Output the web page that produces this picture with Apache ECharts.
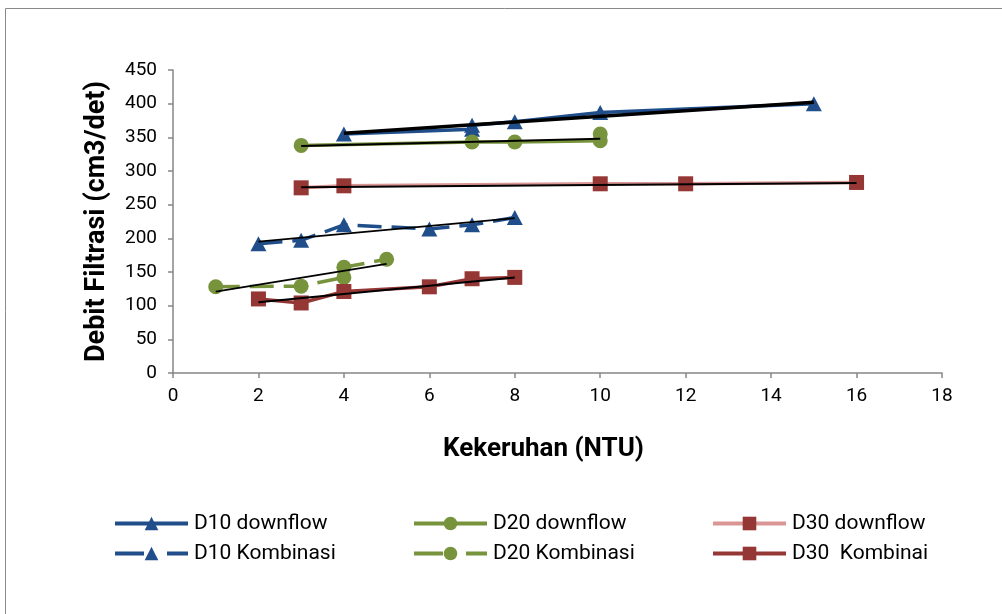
<!DOCTYPE html>
<html>
<head>
<meta charset="utf-8">
<script src="https://cdn.jsdelivr.net/npm/echarts@6/dist/echarts.min.js"></script>
<style>
html,body{margin:0;padding:0;background:#fff;}
#c{width:1002px;height:614px;}
</style>
</head>
<body>
<div id="c"></div>
<script>
// ---- data ----
const seriesNames = ['D10 downflow', 'D10 Kombinasi', 'D20 downflow', 'D20 Kombinasi', 'D30 downflow', 'D30  Kombinai'];

const d10DownX = [4, 7, 7, 8, 10, 15];
const d10DownY = [355, 362, 368, 373, 387, 400];
const d20DownX = [3, 7, 8, 10, 10];
const d20DownY = [338, 343, 343, 345, 355];
const d30DownX = [3, 4, 10, 12, 16];
const d30DownY = [275, 278, 281, 281, 283];

const d10KomX = [2, 3, 4, 6, 7, 8];
const d10KomY = [192, 197, 220, 214, 220, 231];
const d20KomX = [1, 3, 4, 4, 5];
const d20KomY = [128, 129, 142, 157, 169];
const d30KomX = [2, 3, 4, 6, 7, 8];
const d30KomY = [110, 104, 121, 128, 140, 142];

// linear trend lines (end points)
const trendD10DownX = [4, 15];
const trendD10DownY = [356, 402];
const trendD20DownX = [3, 10];
const trendD20DownY = [337, 348];
const trendD30DownX = [3, 16];
const trendD30DownY = [276, 282];
const trendD10KomX = [2, 8];
const trendD10KomY = [195, 230];
const trendD20KomX = [1, 5];
const trendD20KomY = [121, 162];
const trendD30KomX = [2, 8];
const trendD30KomY = [105, 142];

const xTicks = {min: 0, max: 18, interval: 2};
const yTicks = {min: 0, max: 450, interval: 50};

// ---- styles ----
const BLUE = '#1F4E8A', GREEN = '#77933C', RED = '#953735', PINK = '#D99694';
const FONT = 'Roboto';

function pts(xs, ys) { return xs.map((x, i) => [x, ys[i]]); }

function lineSeries(name, xs, ys, color, lineColor, symbol, size, dashed) {
  return {
    name: name, type: 'line', data: pts(xs, ys),
    symbol: symbol, symbolSize: size, showSymbol: true,
    itemStyle: {color: color},
    lineStyle: {color: lineColor, width: 3.5, type: dashed ? [24, 10] : 'solid', cap: 'butt'},
    z: 2, animation: false
  };
}
function trend(xs, ys, w) {
  return {
    type: 'line', data: pts(xs, ys), symbol: 'none', silent: true,
    lineStyle: {color: '#000', width: w}, z: 5, animation: false, legendHoverLink: false
  };
}
function legItem(name, dashed) {
  const it = {name: name};
  if (dashed) it.lineStyle = {type: [29, 23], width: 4};
  return it;
}

const chart = echarts.init(document.getElementById('c'));
chart.setOption({
  animation: false,
  backgroundColor: '#fff',
  graphic: [{
    type: 'rect', shape: {x: 5.5, y: 8.5, width: 1200, height: 800},
    style: {fill: 'none', stroke: '#8a8a8a', lineWidth: 1}, silent: true, z: -1
  }],
  grid: {left: 173, top: 70, right: 60, bottom: 241},
  xAxis: {
    type: 'value', min: xTicks.min, max: xTicks.max, interval: xTicks.interval,
    name: 'Kekeruhan (NTU)', nameLocation: 'middle', nameGap: 63,
    nameTextStyle: {fontFamily: FONT, fontWeight: 'bold', fontSize: 26, color: '#000', padding: [0, 28, 0, 0]},
    axisLine: {lineStyle: {color: '#868686', width: 1.5}},
    axisTick: {show: true, length: 5, lineStyle: {color: '#868686', width: 1.5}},
    axisLabel: {fontFamily: FONT, fontSize: 19, color: '#000', margin: 14},
    splitLine: {show: false}
  },
  yAxis: {
    type: 'value', min: yTicks.min, max: yTicks.max, interval: yTicks.interval,
    name: 'Debit Filtrasi (cm3/det)', nameLocation: 'middle', nameGap: 62,
    nameTextStyle: {fontFamily: FONT, fontWeight: 'bold', fontSize: 27, color: '#000'},
    axisLine: {show: true, lineStyle: {color: '#868686', width: 1.5}},
    axisTick: {show: true, length: 5, lineStyle: {color: '#868686', width: 1.5}},
    axisLabel: {fontFamily: FONT, fontSize: 19, color: '#000', margin: 16},
    splitLine: {show: false}
  },
  legend: [
    {data: [legItem(seriesNames[0], false), legItem(seriesNames[1], true)], left: 108},
    {data: [legItem(seriesNames[2], false), legItem(seriesNames[3], true)], left: 407},
    {data: [legItem(seriesNames[4], false), legItem(seriesNames[5], false)], left: 706}
  ].map(l => Object.assign(l, {
    top: 508, orient: 'vertical', itemWidth: 73, itemHeight: 17, itemGap: 9,
    lineStyle: {width: 4},
    textStyle: {fontFamily: FONT, fontSize: 21, color: '#000', padding: [0, 0, 0, 1]},
    selectedMode: false
  })),
  series: [
    lineSeries(seriesNames[0], d10DownX, d10DownY, BLUE, BLUE, 'triangle', [16, 15], false),
    lineSeries(seriesNames[1], d10KomX, d10KomY, BLUE, BLUE, 'triangle', [16, 15], true),
    lineSeries(seriesNames[2], d20DownX, d20DownY, GREEN, GREEN, 'circle', 15, false),
    lineSeries(seriesNames[3], d20KomX, d20KomY, GREEN, GREEN, 'circle', 15, true),
    lineSeries(seriesNames[4], d30DownX, d30DownY, RED, PINK, 'rect', 15, false),
    lineSeries(seriesNames[5], d30KomX, d30KomY, RED, RED, 'rect', 15, false),
    trend(trendD10DownX, trendD10DownY, 3.5),
    trend(trendD20DownX, trendD20DownY, 2),
    trend(trendD30DownX, trendD30DownY, 2),
    trend(trendD10KomX, trendD10KomY, 1.8),
    trend(trendD20KomX, trendD20KomY, 1.8),
    trend(trendD30KomX, trendD30KomY, 2)
  ]
});
</script>
</body>
</html>
